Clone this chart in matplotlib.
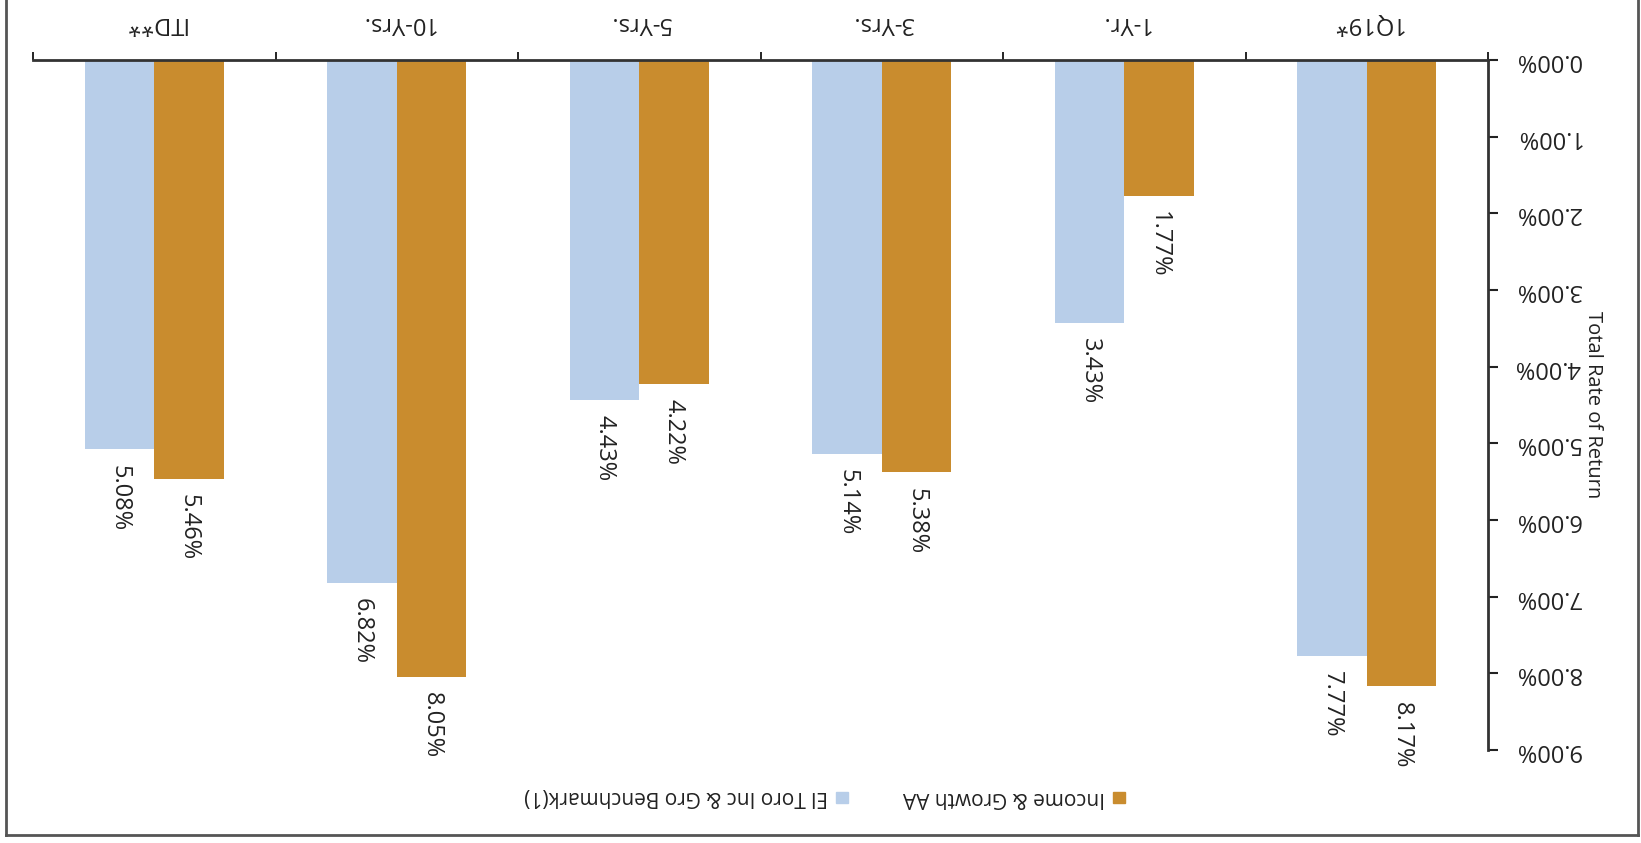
import numpy as np
import matplotlib.pyplot as plt
from matplotlib.lines import Line2D
from matplotlib.patches import Rectangle
from matplotlib.ticker import FuncFormatter, FixedLocator

plt.rcParams['font.family'] = ['Open Sans', 'DejaVu Sans']

periods = ['1Q19*', '1-Yr.', '3-Yrs.', '5-Yrs.', '10-Yrs.', 'ITD**']
income_growth = [8.17, 1.77, 5.38, 4.22, 8.05, 5.46]
el_toro_bench = [7.77, 3.43, 5.14, 4.43, 6.82, 5.08]
series_names = ['Income & Growth AA', 'El Toro Inc & Gro Benchmark(1)']
series_colors = ['#C98C2E', '#B8CEE9']

W, H = 1641, 843
fig = plt.figure(figsize=(W / 100, H / 100), dpi=100)
ax = fig.add_axes([33 / W, 1 - 750 / H, (1488 - 33) / W, (750 - 60) / H])

x = np.arange(len(periods))
bw = 0.286
for vals, off, col in [(income_growth, -bw / 2, series_colors[0]),
                       (el_toro_bench, bw / 2, series_colors[1])]:
    bars = ax.bar(x + off, vals, width=bw, color=col, edgecolor='none')
    for b, v in zip(bars, vals):
        ax.annotate(f'{v:.2f}%', (b.get_x() + b.get_width() / 2, v),
                    xytext=(0, -11), textcoords='offset points',
                    rotation=270, ha='center', va='top', fontsize=17,
                    color='#222222')

# the page is printed upside down: flip both axes and all text
ax.set_xlim(len(periods) - 0.5, -0.5)
ax.set_ylim(9, 0)
ax.set_yticks(np.arange(0, 10, 1))
ax.yaxis.set_major_formatter(FuncFormatter(lambda v, p: f'{v:.2f}%'))
ax.yaxis.tick_right()
ax.tick_params(axis='y', direction='out', length=7, width=1.5, pad=12,
               labelsize=17, labelrotation=180, colors='#222222')
for lbl in ax.get_yticklabels():
    lbl.set_va('center')
ax.set_ylabel('Total Rate of Return', rotation=270, fontsize=14.5,
              labelpad=16, color='#222222')
ax.yaxis.set_label_position('right')

ax.xaxis.tick_top()
ax.set_xticks(x)
ax.set_xticklabels(periods)
ax.xaxis.set_minor_locator(FixedLocator(np.arange(-0.5, len(periods), 1)))
ax.tick_params(axis='x', which='major', length=0, pad=18, labelsize=17,
               labelrotation=180, colors='#222222')
ax.tick_params(axis='x', which='minor', direction='out', length=6, width=1.2)

for s in ['left', 'bottom']:
    ax.spines[s].set_visible(False)
for s in ['top', 'right']:
    ax.spines[s].set_linewidth(2)
    ax.spines[s].set_color('#333333')

# legend, written upside down along the bottom
leg_y = 1 - 797 / H
for name, col, bx in [(series_names[0], series_colors[0], 1113),
                      (series_names[1], series_colors[1], 836)]:
    fig.add_artist(Rectangle((bx / W, leg_y - 6 / H), 12 / W, 11 / H,
                             transform=fig.transFigure, color=col))
    fig.text((bx - 8) / W, leg_y, name, rotation=180, ha='right',
             va='center', fontsize=15, color='#222222')

# frame around the chart
for xs, ys in [([6, 6], [0, 835]), ([6, 1638], [835, 835]),
               ([1638, 1638], [835, 0])]:
    fig.add_artist(Line2D([v / W for v in xs], [1 - v / H for v in ys],
                          transform=fig.transFigure, color='#555555', lw=2))

fig.savefig('out.png', dpi=100)
